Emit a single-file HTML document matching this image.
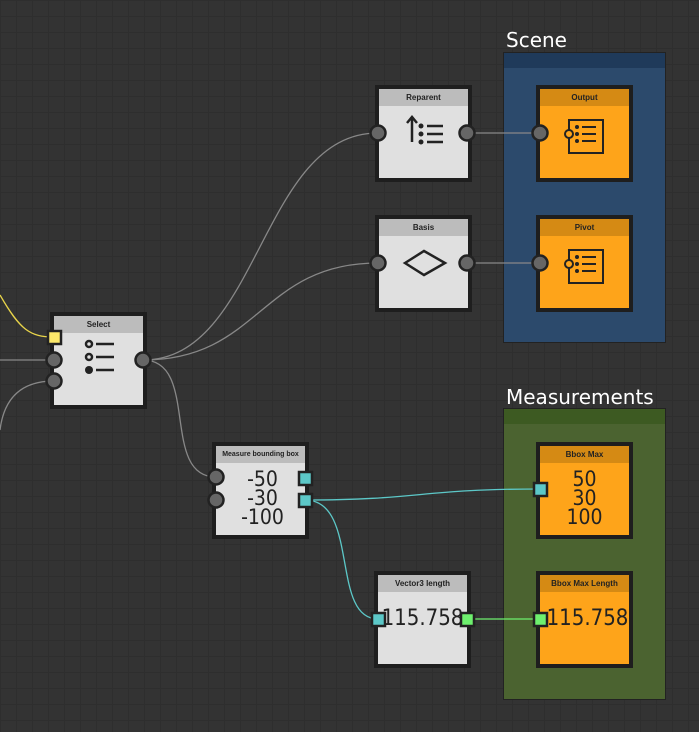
<!DOCTYPE html>
<html><head><style>
body{margin:0;width:699px;height:732px;overflow:hidden;background:#333;
background-image:linear-gradient(#2e2e2e 1px,transparent 1px),linear-gradient(90deg,#2e2e2e 1px,transparent 1px);background-size:16px 16px;font-family:"Liberation Sans",sans-serif;position:relative}
.abs{position:absolute}
.grp{position:absolute;box-sizing:border-box;border:1px solid #222}
.node{position:absolute;box-sizing:border-box;width:97px;height:97px;border:4px solid #1e1e1e;background:#e0e0e0}
.node .h{height:17px;background:#bcbcbc;font-size:8px;font-weight:bold;text-align:center;line-height:17px;color:#222}
.node.o{background:#fea41a}.node.o .h{background:#d58a14}
.num{position:absolute;left:0;right:0;text-align:center;color:#222;font-family:"DejaVu Sans Condensed","DejaVu Sans",sans-serif;font-size:21px;line-height:19px}
.lbl{position:absolute;color:#fff;font-family:"DejaVu Sans",sans-serif;font-size:20px}
</style></head><body>
<div class="grp" style="left:503px;top:52px;width:163px;height:291px;background:#2c4a6c"><div style="height:15px;background:#1f3a5a"></div></div>
<div class="lbl" style="left:506px;top:28px">Scene</div>
<div class="grp" style="left:503px;top:408px;width:163px;height:292px;background:#4b6330"><div style="height:15px;background:#3d5a22"></div></div>
<div class="lbl" style="left:506px;top:385px">Measurements</div>

<svg class="abs" style="left:0;top:0" width="699" height="732">
<g fill="none" stroke-width="1.3">
<path d="M0,295 C20,330 30,337 54,337" stroke="#e8d44a"/>
<path d="M0,360 L54,360" stroke="#888"/>
<path d="M0,430 C5,390 30,381 54,381" stroke="#888"/>
<path d="M143,360 C260,360 260,133 378,133" stroke="#888"/>
<path d="M143,360 C260,360 260,263 378,263" stroke="#888"/>
<path d="M143,360 C200,360 160,477 216,477" stroke="#888"/>
<path d="M467,133 L540,133" stroke="#888"/>
<path d="M467,263 L540,263" stroke="#888"/>
<path d="M305,500 C420,500 420,489 540,489" stroke="#5cc8c8"/>
<path d="M305,500 C360,500 330,619 378,619" stroke="#5cc8c8"/>
<path d="M467,619 L540,619" stroke="#6ef06e"/>
</g>
</svg>

<div class="node" style="left:50px;top:312px"><div class="h">Select</div>
<svg width="89" height="72"><g stroke="#222" stroke-width="2.5" fill="none"><circle cx="35" cy="11" r="3"/><circle cx="35" cy="24" r="3"/><line x1="42" y1="11" x2="60" y2="11"/><line x1="42" y1="24" x2="60" y2="24"/><line x1="42" y1="37" x2="60" y2="37"/></g><circle cx="35" cy="37" r="4" fill="#222"/></svg></div>
<div class="node" style="left:375px;top:85px"><div class="h">Reparent</div>
<svg width="89" height="72"><g stroke="#222" stroke-width="2.5" fill="none"><line x1="33" y1="36" x2="33" y2="12"/><polyline points="28,17 33,11 38,17"/><line x1="48" y1="20" x2="64" y2="20"/><line x1="48" y1="28" x2="64" y2="28"/><line x1="48" y1="36" x2="64" y2="36"/></g><g fill="#222"><circle cx="42" cy="20" r="2.5"/><circle cx="42" cy="28" r="2.5"/><circle cx="42" cy="36" r="2.5"/></g></svg></div>
<div class="node" style="left:375px;top:215px"><div class="h">Basis</div>
<svg width="89" height="72"><polygon points="26,27 45,15 66,27 45,39" fill="none" stroke="#222" stroke-width="2.5"/></svg></div>
<div class="node o" style="left:536px;top:85px"><div class="h">Output</div>
<svg width="89" height="72"><g stroke="#222" stroke-width="2" fill="none"><rect x="29" y="14" width="34" height="33"/><circle cx="29" cy="28" r="4" fill="#fea41a"/><line x1="42" y1="21" x2="56" y2="21"/><line x1="42" y1="28" x2="56" y2="28"/><line x1="42" y1="35" x2="56" y2="35"/></g><g fill="#222"><circle cx="37" cy="21" r="2"/><circle cx="37" cy="28" r="2"/><circle cx="37" cy="35" r="2"/></g></svg></div>
<div class="node o" style="left:536px;top:215px"><div class="h">Pivot</div>
<svg width="89" height="72"><g stroke="#222" stroke-width="2" fill="none"><rect x="29" y="14" width="34" height="33"/><circle cx="29" cy="28" r="4" fill="#fea41a"/><line x1="42" y1="21" x2="56" y2="21"/><line x1="42" y1="28" x2="56" y2="28"/><line x1="42" y1="35" x2="56" y2="35"/></g><g fill="#222"><circle cx="37" cy="21" r="2"/><circle cx="37" cy="28" r="2"/><circle cx="37" cy="35" r="2"/></g></svg></div>
<div class="node" style="left:212px;top:442px"><div class="h" style="font-size:7px">Measure bounding box</div>
<div class="num" style="top:24px;left:4px">-50<br>-30<br>-100</div></div>
<div class="node" style="left:374px;top:571px"><div class="h">Vector3 length</div>
<div class="num" style="top:34px;font-size:22px">115.758</div></div>
<div class="node o" style="left:536px;top:442px"><div class="h">Bbox Max</div>
<div class="num" style="top:24px">50<br>30<br>100</div></div>
<div class="node o" style="left:536px;top:571px"><div class="h">Bbox Max Length</div>
<div class="num" style="top:34px;font-size:22px;left:6px">115.758</div></div>

<svg class="abs" style="left:0;top:0" width="699" height="732">
<g fill="#666" stroke="#222" stroke-width="2.5">
<circle cx="54" cy="360" r="7.5"/><circle cx="54" cy="381" r="7.5"/><circle cx="143" cy="360" r="7.5"/>
<circle cx="378" cy="133" r="7.5"/><circle cx="467" cy="133" r="7.5"/><circle cx="540" cy="133" r="7.5"/>
<circle cx="378" cy="263" r="7.5"/><circle cx="467" cy="263" r="7.5"/><circle cx="540" cy="263" r="7.5"/>
<circle cx="216" cy="477" r="7.5"/><circle cx="216" cy="500" r="7.5"/>
</g>
<g stroke="#222" stroke-width="2.5">
<rect x="48" y="331" width="13" height="13" fill="#fde96a"/>
<rect x="299" y="472" width="13" height="13" fill="#5cc8c8"/>
<rect x="299" y="494" width="13" height="13" fill="#5cc8c8"/>
<rect x="534" y="483" width="13" height="13" fill="#5cc8c8"/>
<rect x="372" y="613" width="13" height="13" fill="#5cc8c8"/>
<rect x="461" y="613" width="13" height="13" fill="#6ef06e"/>
<rect x="534" y="613" width="13" height="13" fill="#6ef06e"/>
</g>
</svg>
</body></html>
